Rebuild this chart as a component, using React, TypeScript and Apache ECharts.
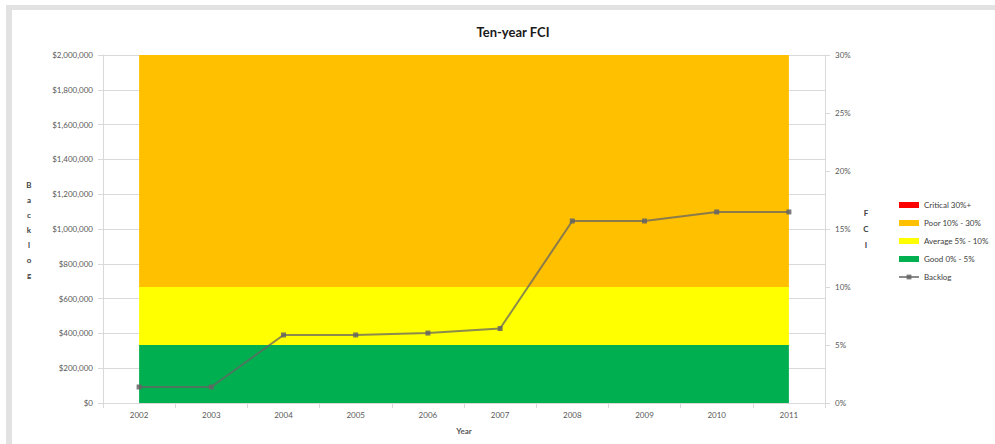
import React, { useEffect, useRef } from "react";
import * as echarts from "echarts";

// Fiscal years on the category axis
const years = ["2002", "2003", "2004", "2005", "2006", "2007", "2008", "2009", "2010", "2011"];

// Condition bands (percent ranges of FCI), stacked
const goodBand = [5, 5, 5, 5, 5, 5, 5, 5, 5, 5];
const averageBand = [5, 5, 5, 5, 5, 5, 5, 5, 5, 5];
const poorBand = [20, 20, 20, 20, 20, 20, 20, 20, 20, 20];
const criticalBand = [0, 0, 0, 0, 0, 0, 0, 0, 0, 0];

// Deferred maintenance backlog in dollars
const backlog = [92000, 92000, 391000, 391000, 402000, 428000, 1046000, 1046000, 1098000, 1098000];

const bandNames = ["Critical 30%+", "Poor 10% - 30%", "Average 5% - 10%", "Good 0% - 5%"];
const lineName = "Backlog";

const FONT = "Lato, 'Open Sans', sans-serif";
const LABEL = "#595959";

export default function App() {
  const ref = useRef<HTMLDivElement>(null);

  useEffect(() => {
    if (!ref.current) return;
    const chart = echarts.init(ref.current, null, { renderer: "svg" });

    const band = (name: string, data: number[], color: string) => ({
      name,
      type: "line",
      yAxisIndex: 1,
      stack: "fci",
      data,
      symbol: "none",
      lineStyle: { width: 0 },
      areaStyle: { color, opacity: 1 },
      itemStyle: { color },
      z: 1,
    });

    chart.setOption({
      animation: false,
      backgroundColor: "#ffffff",
      textStyle: { fontFamily: FONT },
      title: {
        text: "Ten-year FCI",
        left: 508,
        top: 20,
        textAlign: "center",
        textStyle: { fontSize: 13, fontWeight: "bold", color: "#1a1a1a", fontFamily: FONT },
      },
      graphic: [
        { type: "rect", shape: { x: 6, y: 5, width: 989, height: 5 }, style: { fill: "#e2e2e2" } },
        { type: "rect", shape: { x: 6, y: 5, width: 6, height: 439 }, style: { fill: "#e2e2e2" } },
        {
          type: "text",
          x: 29,
          y: 230,
          style: {
            text: "B\na\nc\nk\nl\no\ng",
            fill: "#404040",
            font: `bold 8px ${FONT}`,
            lineHeight: 15,
            align: "center",
            verticalAlign: "middle",
          },
        },
        {
          type: "text",
          x: 866,
          y: 229,
          style: {
            text: "F\nC\nI",
            fill: "#404040",
            font: `bold 8px ${FONT}`,
            lineHeight: 16,
            align: "center",
            verticalAlign: "middle",
          },
        },
      ],
      legend: {
        orient: "vertical",
        left: 893,
        top: 196,
        itemWidth: 20,
        itemHeight: 6,
        itemGap: 10,
        textStyle: { fontSize: 8, color: "#404040", fontFamily: FONT },
        data: [
          { name: bandNames[0], icon: "rect" },
          { name: bandNames[1], icon: "rect" },
          { name: bandNames[2], icon: "rect" },
          { name: bandNames[3], icon: "rect" },
          { name: lineName },
        ],
      },
      grid: { left: 103, right: 170, top: 55, bottom: 41 },
      xAxis: {
        type: "category",
        data: years,
        boundaryGap: true,
        name: "Year",
        nameLocation: "middle",
        nameGap: 24,
        nameTextStyle: { fontSize: 8, color: LABEL, fontWeight: "bold" },
        axisLine: { lineStyle: { color: "#d9d9d9" } },
        axisTick: { show: true, lineStyle: { color: "#d9d9d9" }, length: 5 },
        axisLabel: { fontSize: 8, color: LABEL, margin: 8 },
      },
      yAxis: [
        {
          type: "value",
          min: 0,
          max: 2000000,
          interval: 200000,
          axisLine: { show: true, lineStyle: { color: "#d9d9d9" } },
          axisTick: { show: true, lineStyle: { color: "#d9d9d9" }, length: 5 },
          axisLabel: {
            fontSize: 8,
            color: LABEL,
            margin: 10,
            formatter: (v: number) => "$" + v.toLocaleString("en-US"),
          },
          splitLine: { show: true, lineStyle: { color: "#d9d9d9", width: 1 } },
        },
        {
          type: "value",
          min: 0,
          max: 30,
          interval: 5,
          position: "right",
          axisLine: { show: true, lineStyle: { color: "#d9d9d9" } },
          axisTick: { show: true, lineStyle: { color: "#d9d9d9" }, length: 5 },
          axisLabel: { fontSize: 8, color: LABEL, margin: 10, formatter: "{value}%" },
          splitLine: { show: false },
        },
      ],
      series: [
        band(bandNames[3], goodBand, "#00b050"),
        band(bandNames[2], averageBand, "#ffff00"),
        band(bandNames[1], poorBand, "#ffc000"),
        band(bandNames[0], criticalBand, "#ff0000"),
        {
          name: lineName,
          type: "line",
          yAxisIndex: 0,
          data: backlog,
          symbol: "rect",
          symbolSize: 5,
          lineStyle: { color: "rgba(100,100,100,0.75)", width: 2 },
          itemStyle: { color: "rgba(100,100,100,0.85)" },
          z: 5,
        },
      ],
    });

    return () => chart.dispose();
  }, []);

  return (
    <div
      ref={ref}
      style={{ position: "absolute", left: 0, top: 0, width: 995, height: 444, background: "#fff" }}
    />
  );
}
